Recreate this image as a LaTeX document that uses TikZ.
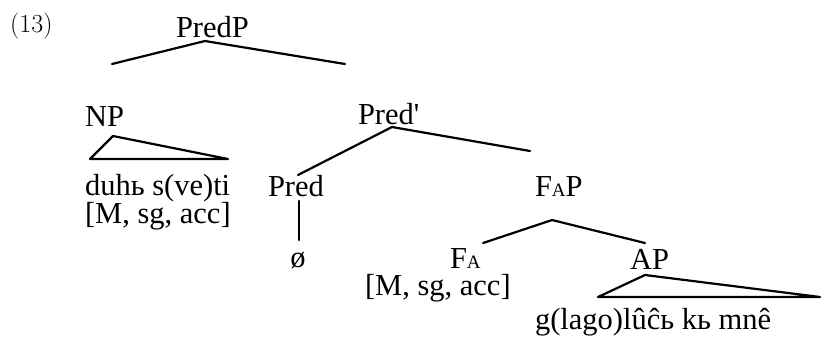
\documentclass[tikz,border=0pt]{standalone}
\usepackage{fontspec}
\setmainfont{Liberation Serif}
\newcommand{\subA}{\raisebox{-0.03em}{\fontsize{19}{19}\selectfont A}}
\tikzset{
  lbl/.style={anchor=base west, inner sep=0pt, outer sep=0pt, font=\fontsize{30.5}{34}\selectfont},
  lblc/.style={anchor=base, inner sep=0pt, outer sep=0pt, font=\fontsize{30.5}{34}\selectfont},
  branch/.style={line width=2.2pt, line cap=round, line join=round},
}
\begin{document}
\begin{tikzpicture}[x=1pt,y=-1pt]
\useasboundingbox (0,0) rectangle (822,341);
% labels
\node[anchor=base west, inner sep=0pt, font=\fontfamily{lmr}\selectfont\fontsize{26}{30}\selectfont] (ex) at (10,32) {(13)};
\node[lbl] (predp) at (176,37) {PredP};
\node[lbl] (np) at (85,126) {NP};
\node[lbl] (predbar) at (358,124) {Pred\textquotesingle};
\node[lbl] (npword) at (85,195) {duhь s(ve)ti};
\node[lbl] (npfeat) at (85,223) {[M, sg, acc]};
\node[lbl] (pred) at (268,196) {Pred};
\node[lblc] (null) at (298,267) {ø};
\node[lbl] (fap) at (535,196) {F\subA P};
\node[lbl] (fa) at (450,268) {F\subA};
\node[lbl] (fafeat) at (365,295) {[M, sg, acc]};
\node[lbl] (ap) at (630,269) {AP};
\node[lbl] (apword) at (535,329) {g(lago)lûĉь kь mnê};
% branch points
\coordinate (predp-top) at (205,41);
\coordinate (predp-l) at (112,64);
\coordinate (predp-r) at (345,64);
\coordinate (np-a) at (113,136);
\coordinate (np-l) at (90,159);
\coordinate (np-r) at (228,159);
\coordinate (predbar-top) at (392,127);
\coordinate (predbar-l) at (298,175);
\coordinate (predbar-r) at (530,151);
\coordinate (pred-top) at (299,201);
\coordinate (pred-bot) at (299,240);
\coordinate (fap-top) at (552,220);
\coordinate (fap-l) at (483,243);
\coordinate (fap-r) at (645,243);
\coordinate (ap-a) at (645,275);
\coordinate (ap-l) at (598,297);
\coordinate (ap-r) at (820,297);
% branches
\draw[branch] (predp-l) -- (predp-top) -- (predp-r);
\draw[branch] (np-a) -- (np-l) -- (np-r) -- cycle;
\draw[branch] (predbar-l) -- (predbar-top) -- (predbar-r);
\draw[branch] (pred-top) -- (pred-bot);
\draw[branch] (fap-l) -- (fap-top) -- (fap-r);
\draw[branch] (ap-a) -- (ap-l) -- (ap-r) -- cycle;
\end{tikzpicture}
\end{document}
